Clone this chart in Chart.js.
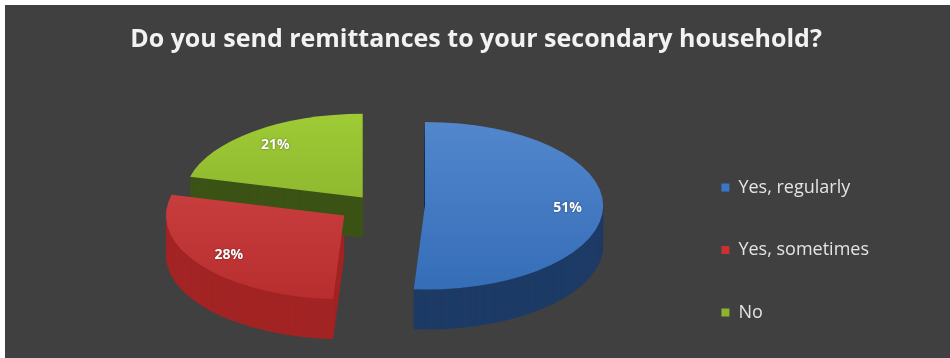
<!DOCTYPE html>
<html>
<head>
<meta charset="utf-8">
<script src="https://cdn.jsdelivr.net/npm/chart.js@4.4.1/dist/chart.umd.min.js"></script>
<style>
  html, body { margin: 0; padding: 0; background: #fff; }
  #wrap { position: absolute; left: 5px; top: 5px; width: 945px; height: 353px; background: #404040; }
</style>
</head>
<body>
<div id="wrap"><canvas id="remitPie"></canvas></div>
<script>
const answers = ['Yes, regularly', 'Yes, sometimes', 'No'];
const shares = [51, 28, 21];
const sliceColors = ['#3a76c6', '#c83232', '#8cb52f'];
const sideColors = ['#1d3b66', '#a32424', '#3c5316'];

// fake 3D look: squash the flat pie, extrude it downwards, pull the slices apart
const pie3d = {
  id: 'pie3d',
  beforeDatasetsDraw(chart, args, opts) {
    const ctx = chart.ctx;
    const arcs = chart.getDatasetMeta(0).data;
    const depth = opts.depth;

    const place = (arc, i, drop) => {
      const mid = (arc.startAngle + arc.endAngle) / 2;
      const push = opts.explode[i] || 0;
      ctx.translate(arc.x + Math.cos(mid) * push,
                    arc.y - depth / 2 + drop + Math.sin(mid) * push * opts.tilt);
      ctx.scale(opts.stretch, opts.stretch * opts.tilt);
      ctx.translate(-arc.x, -arc.y);
    };
    const slicePath = (arc) => {
      ctx.beginPath();
      ctx.moveTo(arc.x, arc.y);
      ctx.arc(arc.x, arc.y, arc.outerRadius, arc.startAngle, arc.endAngle);
      ctx.closePath();
    };

    // sides first
    arcs.forEach((arc, i) => {
      for (let d = depth; d >= 1; d--) {
        ctx.save();
        place(arc, i, d);
        slicePath(arc);
        ctx.fillStyle = sideColors[i];
        ctx.fill();
        ctx.restore();
      }
    });

    // then the top faces
    arcs.forEach((arc, i) => {
      ctx.save();
      place(arc, i, 0);
      const r = arc.outerRadius;
      const g = ctx.createLinearGradient(arc.x, arc.y - r, arc.x, arc.y + r);
      g.addColorStop(0, Chart.helpers.color(sliceColors[i]).lighten(0.12).rgbString());
      g.addColorStop(1, Chart.helpers.color(sliceColors[i]).darken(0.08).rgbString());
      slicePath(arc);
      ctx.fillStyle = g;
      ctx.fill();
      ctx.restore();
    });

    // percentage labels
    ctx.save();
    ctx.font = 'bold 14px "Open Sans"';
    ctx.fillStyle = '#ffffff';
    ctx.textAlign = 'center';
    ctx.textBaseline = 'middle';
    ctx.shadowColor = 'rgba(0,0,0,0.5)';
    ctx.shadowBlur = 2;
    arcs.forEach((arc, i) => {
      const mid = (arc.startAngle + arc.endAngle) / 2;
      const push = opts.explode[i] || 0;
      const reach = arc.outerRadius * opts.labelAt * opts.stretch + push;
      const x = arc.x + Math.cos(mid) * reach;
      const y = arc.y - depth / 2 + Math.sin(mid) * reach * opts.tilt;
      ctx.fillText(shares[i] + '%', x, y);
    });
    ctx.restore();

    return false;
  }
};

new Chart(document.getElementById('remitPie'), {
  type: 'pie',
  data: {
    labels: answers,
    datasets: [{
      data: shares,
      backgroundColor: sliceColors,
      borderWidth: 0
    }]
  },
  options: {
    responsive: true,
    maintainAspectRatio: false,
    animation: false,
    events: [],
    layout: { padding: { left: 68, right: 71, top: 0, bottom: -8 } },
    plugins: {
      title: {
        display: true,
        text: 'Do you send remittances to your secondary household?',
        color: '#f2f2f2',
        font: { family: 'Open Sans', size: 25, weight: 'bold' },
        padding: { top: 20, bottom: 37 }
      },
      legend: {
        position: 'right',
        align: 'end',
        labels: {
          color: '#e4e4e4',
          font: { family: 'Open Sans', size: 18 },
          usePointStyle: true,
          pointStyle: 'rect',
          boxWidth: 8,
          boxHeight: 8,
          padding: 44.5
        }
      },
      tooltip: { enabled: false },
      pie3d: { depth: 40, tilt: 0.47, stretch: 1.34, explode: [50, 38, 20], labelAt: 0.8 }
    }
  },
  plugins: [pie3d]
});
</script>
</body>
</html>
